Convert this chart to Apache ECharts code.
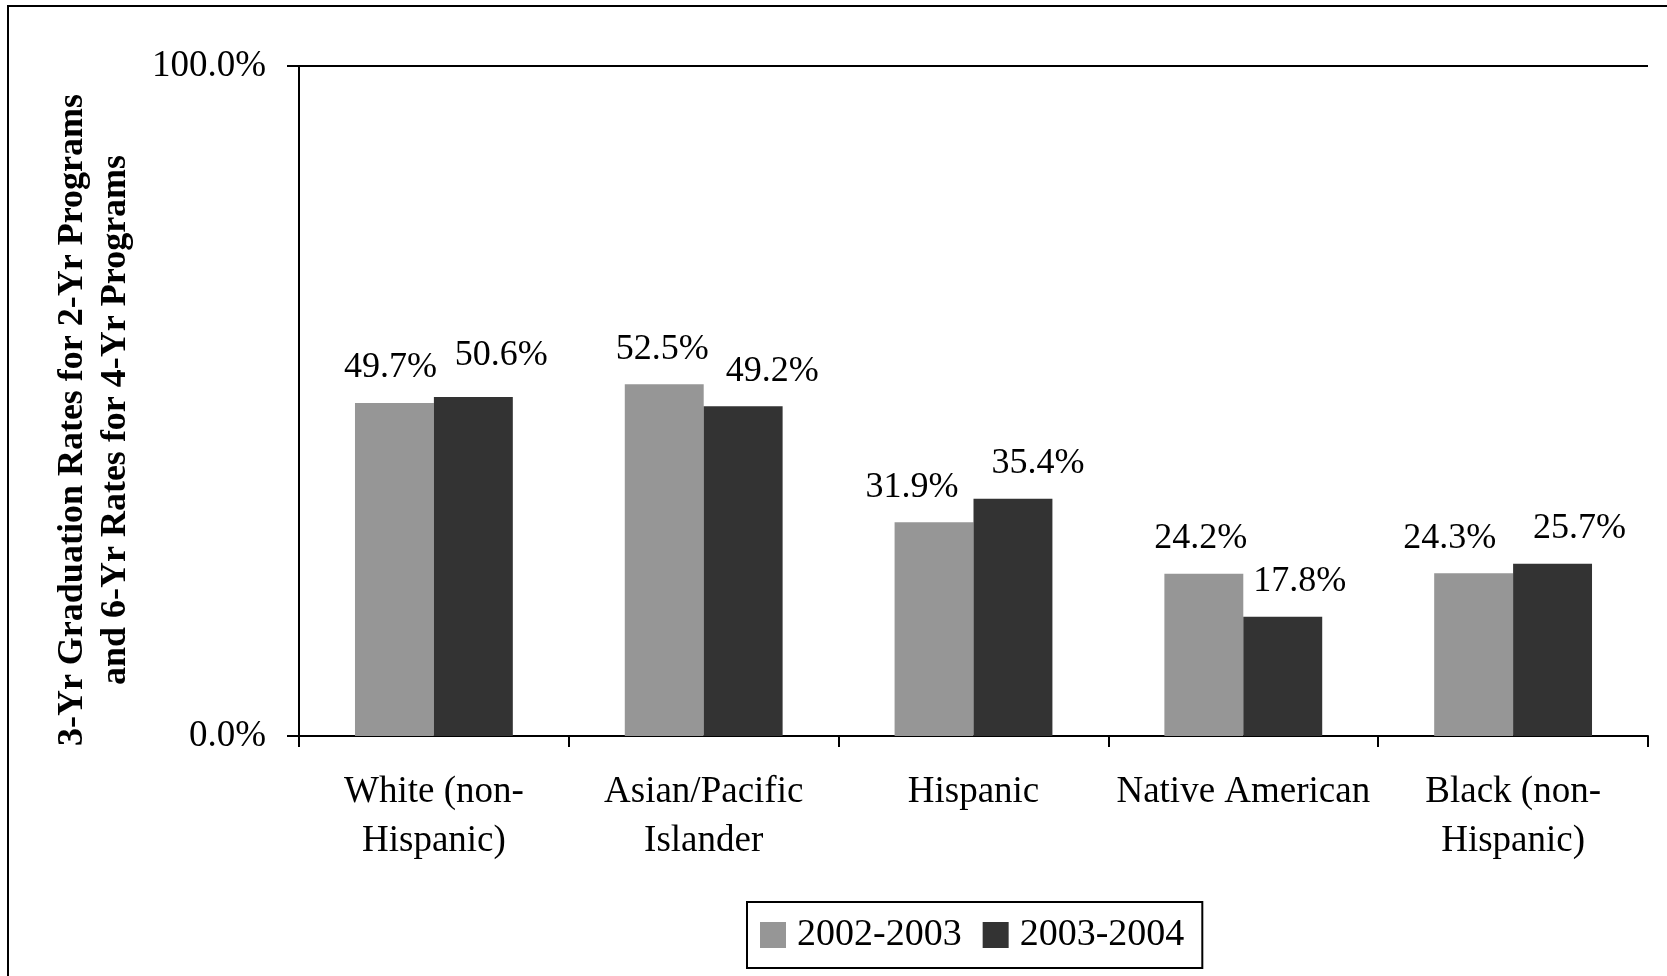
<!DOCTYPE html>
<html>
<head>
<meta charset="utf-8">
<script src="https://cdn.jsdelivr.net/npm/echarts@6/dist/echarts.min.js"></script>
<style>
  html, body { margin: 0; padding: 0; background: #fff; }
  #chart { width: 1667px; height: 976px; }
</style>
</head>
<body>
<div id="chart"></div>
<script>
// Graduation rates by race/ethnicity, two cohorts
const categories = [
  'White (non-\nHispanic)',
  'Asian/Pacific\nIslander',
  'Hispanic',
  'Native American',
  'Black (non-\nHispanic)'
];
const seriesNames = ['2002-2003', '2003-2004'];
const rates2002 = [49.7, 52.5, 31.9, 24.2, 24.3];
const rates2003 = [50.6, 49.2, 35.4, 17.8, 25.7];
const yTicks = [0, 100];

// Label nudges so neighbouring value labels don't collide
const labelShift2002 = [[-4, 0], [-2, 0], [-22, 0], [-3, 0], [-24, 0]];
const labelShift2003 = [[28, -6], [29, 0], [25, 0], [17, 0], [27, 0]];

const FONT = '"Liberation Serif", "Times New Roman", serif';

function seriesData(values, shifts) {
  return values.map((v, i) => ({
    value: v,
    label: { offset: shifts[i] }
  }));
}

const chart = echarts.init(document.getElementById('chart'), null, { renderer: 'canvas' });

chart.setOption({
  backgroundColor: '#ffffff',
  animation: false,
  graphic: [{
    type: 'rect',
    shape: { x: 8, y: 6, width: 1700, height: 1020 },
    style: { fill: 'none', stroke: '#000', lineWidth: 2 },
    silent: true,
    z: -1
  }],
  grid: { left: 299, top: 66, right: 19, bottom: 240 },
  legend: {
    data: seriesNames,
    left: 747,
    top: 902,
    orient: 'horizontal',
    icon: 'rect',
    itemWidth: 26,
    itemHeight: 26,
    itemGap: 21,
    padding: [14, 18, 14, 13],
    borderColor: '#000',
    borderWidth: 2,
    textStyle: { fontFamily: FONT, fontSize: 38, color: '#000', padding: [0, 0, 0, 6] }
  },
  xAxis: {
    type: 'category',
    data: categories,
    axisLine: { lineStyle: { color: '#000', width: 2 } },
    axisTick: { show: true, length: 11, lineStyle: { color: '#000', width: 2 } },
    axisLabel: {
      fontFamily: FONT, fontSize: 37, color: '#000',
      margin: 32, lineHeight: 49, interval: 0
    }
  },
  yAxis: {
    type: 'value',
    min: yTicks[0],
    max: yTicks[yTicks.length - 1],
    interval: 100,
    name: '3-Yr Graduation Rates for 2-Yr Programs\nand 6-Yr Rates for 4-Yr Programs',
    nameLocation: 'middle',
    nameGap: 162,
    nameRotate: 90,
    nameTextStyle: {
      fontFamily: FONT, fontSize: 36, fontWeight: 'bold', color: '#000',
      lineHeight: 43, padding: [0, 38, 0, 0]
    },
    axisLine: { show: true, lineStyle: { color: '#000', width: 2 } },
    axisTick: { show: true, length: 12, lineStyle: { color: '#000', width: 2 } },
    splitLine: { show: true, lineStyle: { color: '#000', width: 2 } },
    axisLabel: {
      fontFamily: FONT, fontSize: 37, color: '#000', margin: 33,
      formatter: v => v.toFixed(1) + '%'
    }
  },
  series: [
    {
      name: seriesNames[0],
      type: 'bar',
      data: seriesData(rates2002, labelShift2002),
      itemStyle: { color: '#969696' },
      barGap: '0%',
      barCategoryGap: '41.5%',
      label: {
        show: true, position: 'top', distance: 17,
        fontFamily: FONT, fontSize: 36, color: '#000',
        formatter: p => p.value.toFixed(1) + '%'
      }
    },
    {
      name: seriesNames[1],
      type: 'bar',
      data: seriesData(rates2003, labelShift2003),
      itemStyle: { color: '#333333' },
      barGap: '0%',
      barCategoryGap: '41.5%',
      label: {
        show: true, position: 'top', distance: 17,
        fontFamily: FONT, fontSize: 36, color: '#000',
        formatter: p => p.value.toFixed(1) + '%'
      }
    }
  ]
});
</script>
</body>
</html>
